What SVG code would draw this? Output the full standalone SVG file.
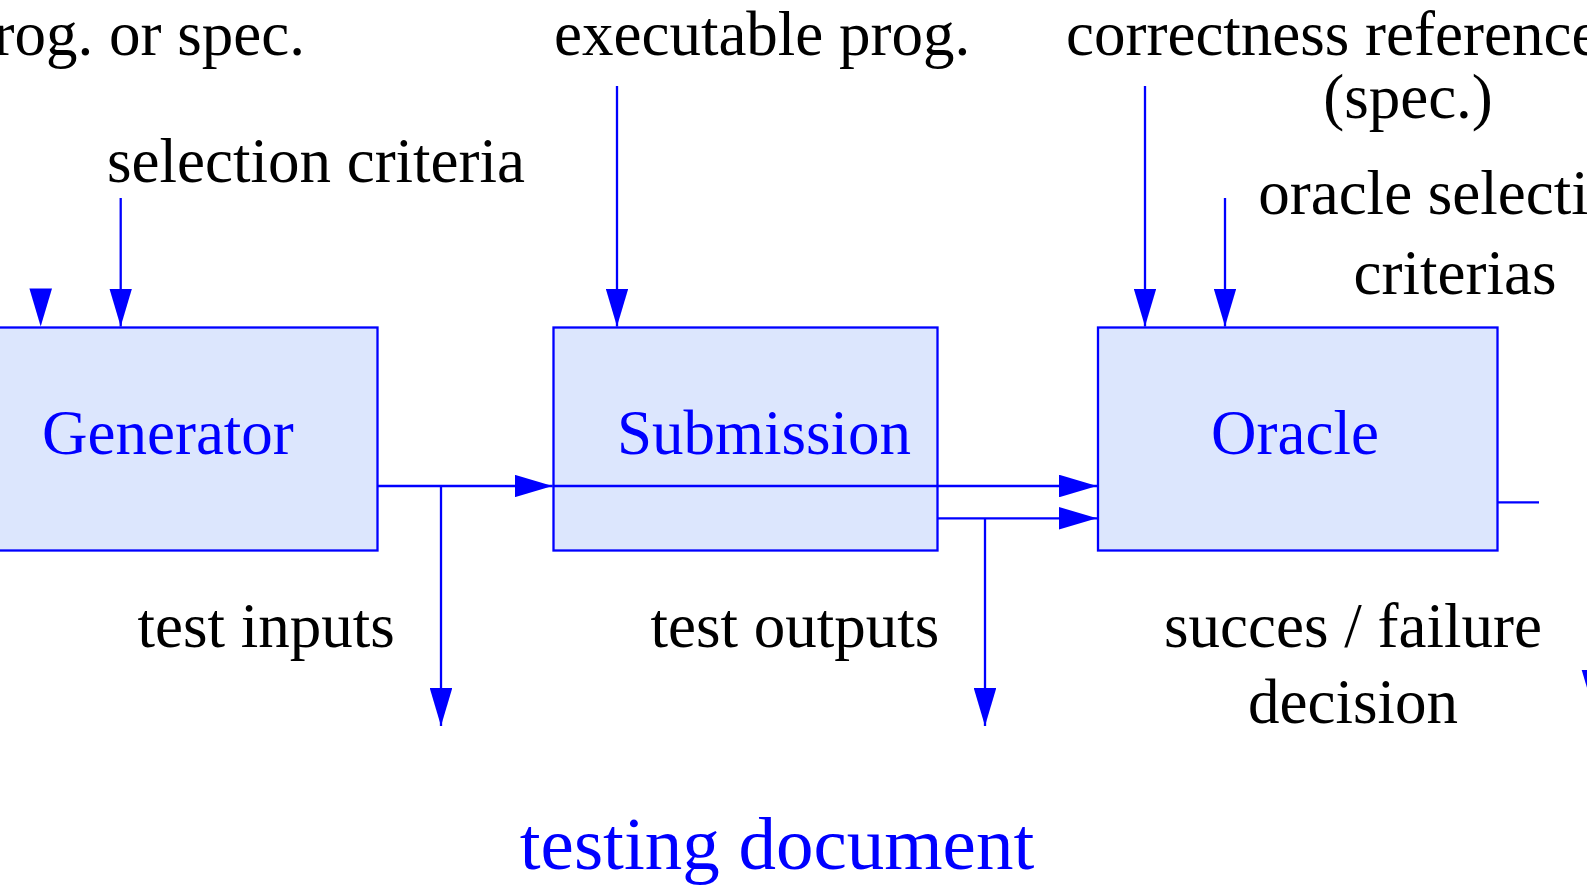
<svg xmlns="http://www.w3.org/2000/svg" xmlns:xlink="http://www.w3.org/1999/xlink" width="1587" height="885" viewBox="0 0 1587 885">
  <style>
    .box { fill: #dce6fd; stroke: #0000ff; stroke-width: 2.3; }
    .node-label { font-family: "Liberation Serif", "Times New Roman", serif; font-size: 63px; fill: #0000ff; }
    .label { font-family: "Liberation Serif", "Times New Roman", serif; font-size: 63px; fill: #000000; }
    .doc { font-family: "Liberation Serif", "Times New Roman", serif; font-size: 75px; fill: #0000ff; }
    .wire { fill: none; stroke: #0000ff; stroke-width: 2.3; }
    .arrow { marker-end: url(#head); }
    .head { fill: #0000ff; }
  </style>
  <defs>
    <marker id="head" markerUnits="userSpaceOnUse" viewBox="0 0 38 22.6" refX="38" refY="11.3" markerWidth="38" markerHeight="22.6" orient="auto">
      <path d="M0,0 L38,11.3 L0,22.6 z" fill="#0000ff"/>
    </marker>
    <path id="headDown" d="M-11.3,-38 L11.3,-38 L0,0 z"/>
  </defs>

  <rect width="1587" height="885" fill="#ffffff"/>

  <!-- top input labels -->
  <g id="inputs">
    <text class="label" x="305" y="55" text-anchor="end">prog. or spec.</text>
    <text class="label" x="107" y="182">selection criteria</text>
    <text class="label" x="554" y="55">executable prog.</text>
    <text class="label" x="1066" y="54.5">correctness reference</text>
    <text class="label" x="1408" y="118" text-anchor="middle">(spec.)</text>
    <text class="label" x="1455" y="213.5" text-anchor="middle">oracle selection</text>
    <text class="label" x="1455" y="293.5" text-anchor="middle">criterias</text>
  </g>

  <g id="generator">
    <rect class="box" x="-10" y="327.5" width="387.5" height="223"/>
    <text class="node-label" x="42" y="454">Generator</text>
  </g>

  <g id="submission">
    <rect class="box" x="553.5" y="327.5" width="384" height="223"/>
    <text class="node-label" x="617" y="454">Submission</text>
  </g>

  <g id="oracle">
    <rect class="box" x="1098" y="327.5" width="399.5" height="223"/>
    <text class="node-label" x="1211" y="454">Oracle</text>
  </g>

  <g id="connectors">
    <!-- inputs from above -->
    <use href="#headDown" xlink:href="#headDown" class="head" x="40.7" y="326.5"/>
    <path class="wire arrow" d="M120.7,198 V326.5"/>
    <path class="wire arrow" d="M617,86 V326.5"/>
    <path class="wire arrow" d="M1145,86 V326.5"/>
    <path class="wire arrow" d="M1225,198 V326.5"/>
    <!-- test inputs flow -->
    <path class="wire arrow" d="M377.5,486 H552.5"/>
    <path class="wire arrow" d="M552.5,486 H1097"/>
    <path class="wire arrow" d="M441,486 V726"/>
    <!-- test outputs flow -->
    <path class="wire arrow" d="M937.5,518.3 H1097"/>
    <path class="wire arrow" d="M985,518.3 V726"/>
    <!-- decision output -->
    <path class="wire" d="M1497.5,502.3 H1539"/>
    <use href="#headDown" xlink:href="#headDown" class="head" x="1593" y="708"/>
  </g>

  <!-- output labels -->
  <g id="outputs">
    <text class="label" x="137.5" y="646.5">test inputs</text>
    <text class="label" x="650.5" y="646.5">test outputs</text>
    <text class="label" x="1353" y="646.5" text-anchor="middle">succes / failure</text>
    <text class="label" x="1353" y="723" text-anchor="middle">decision</text>
  </g>

  <g id="testing-document">
    <text class="doc" x="777" y="869" text-anchor="middle">testing document</text>
  </g>
</svg>
